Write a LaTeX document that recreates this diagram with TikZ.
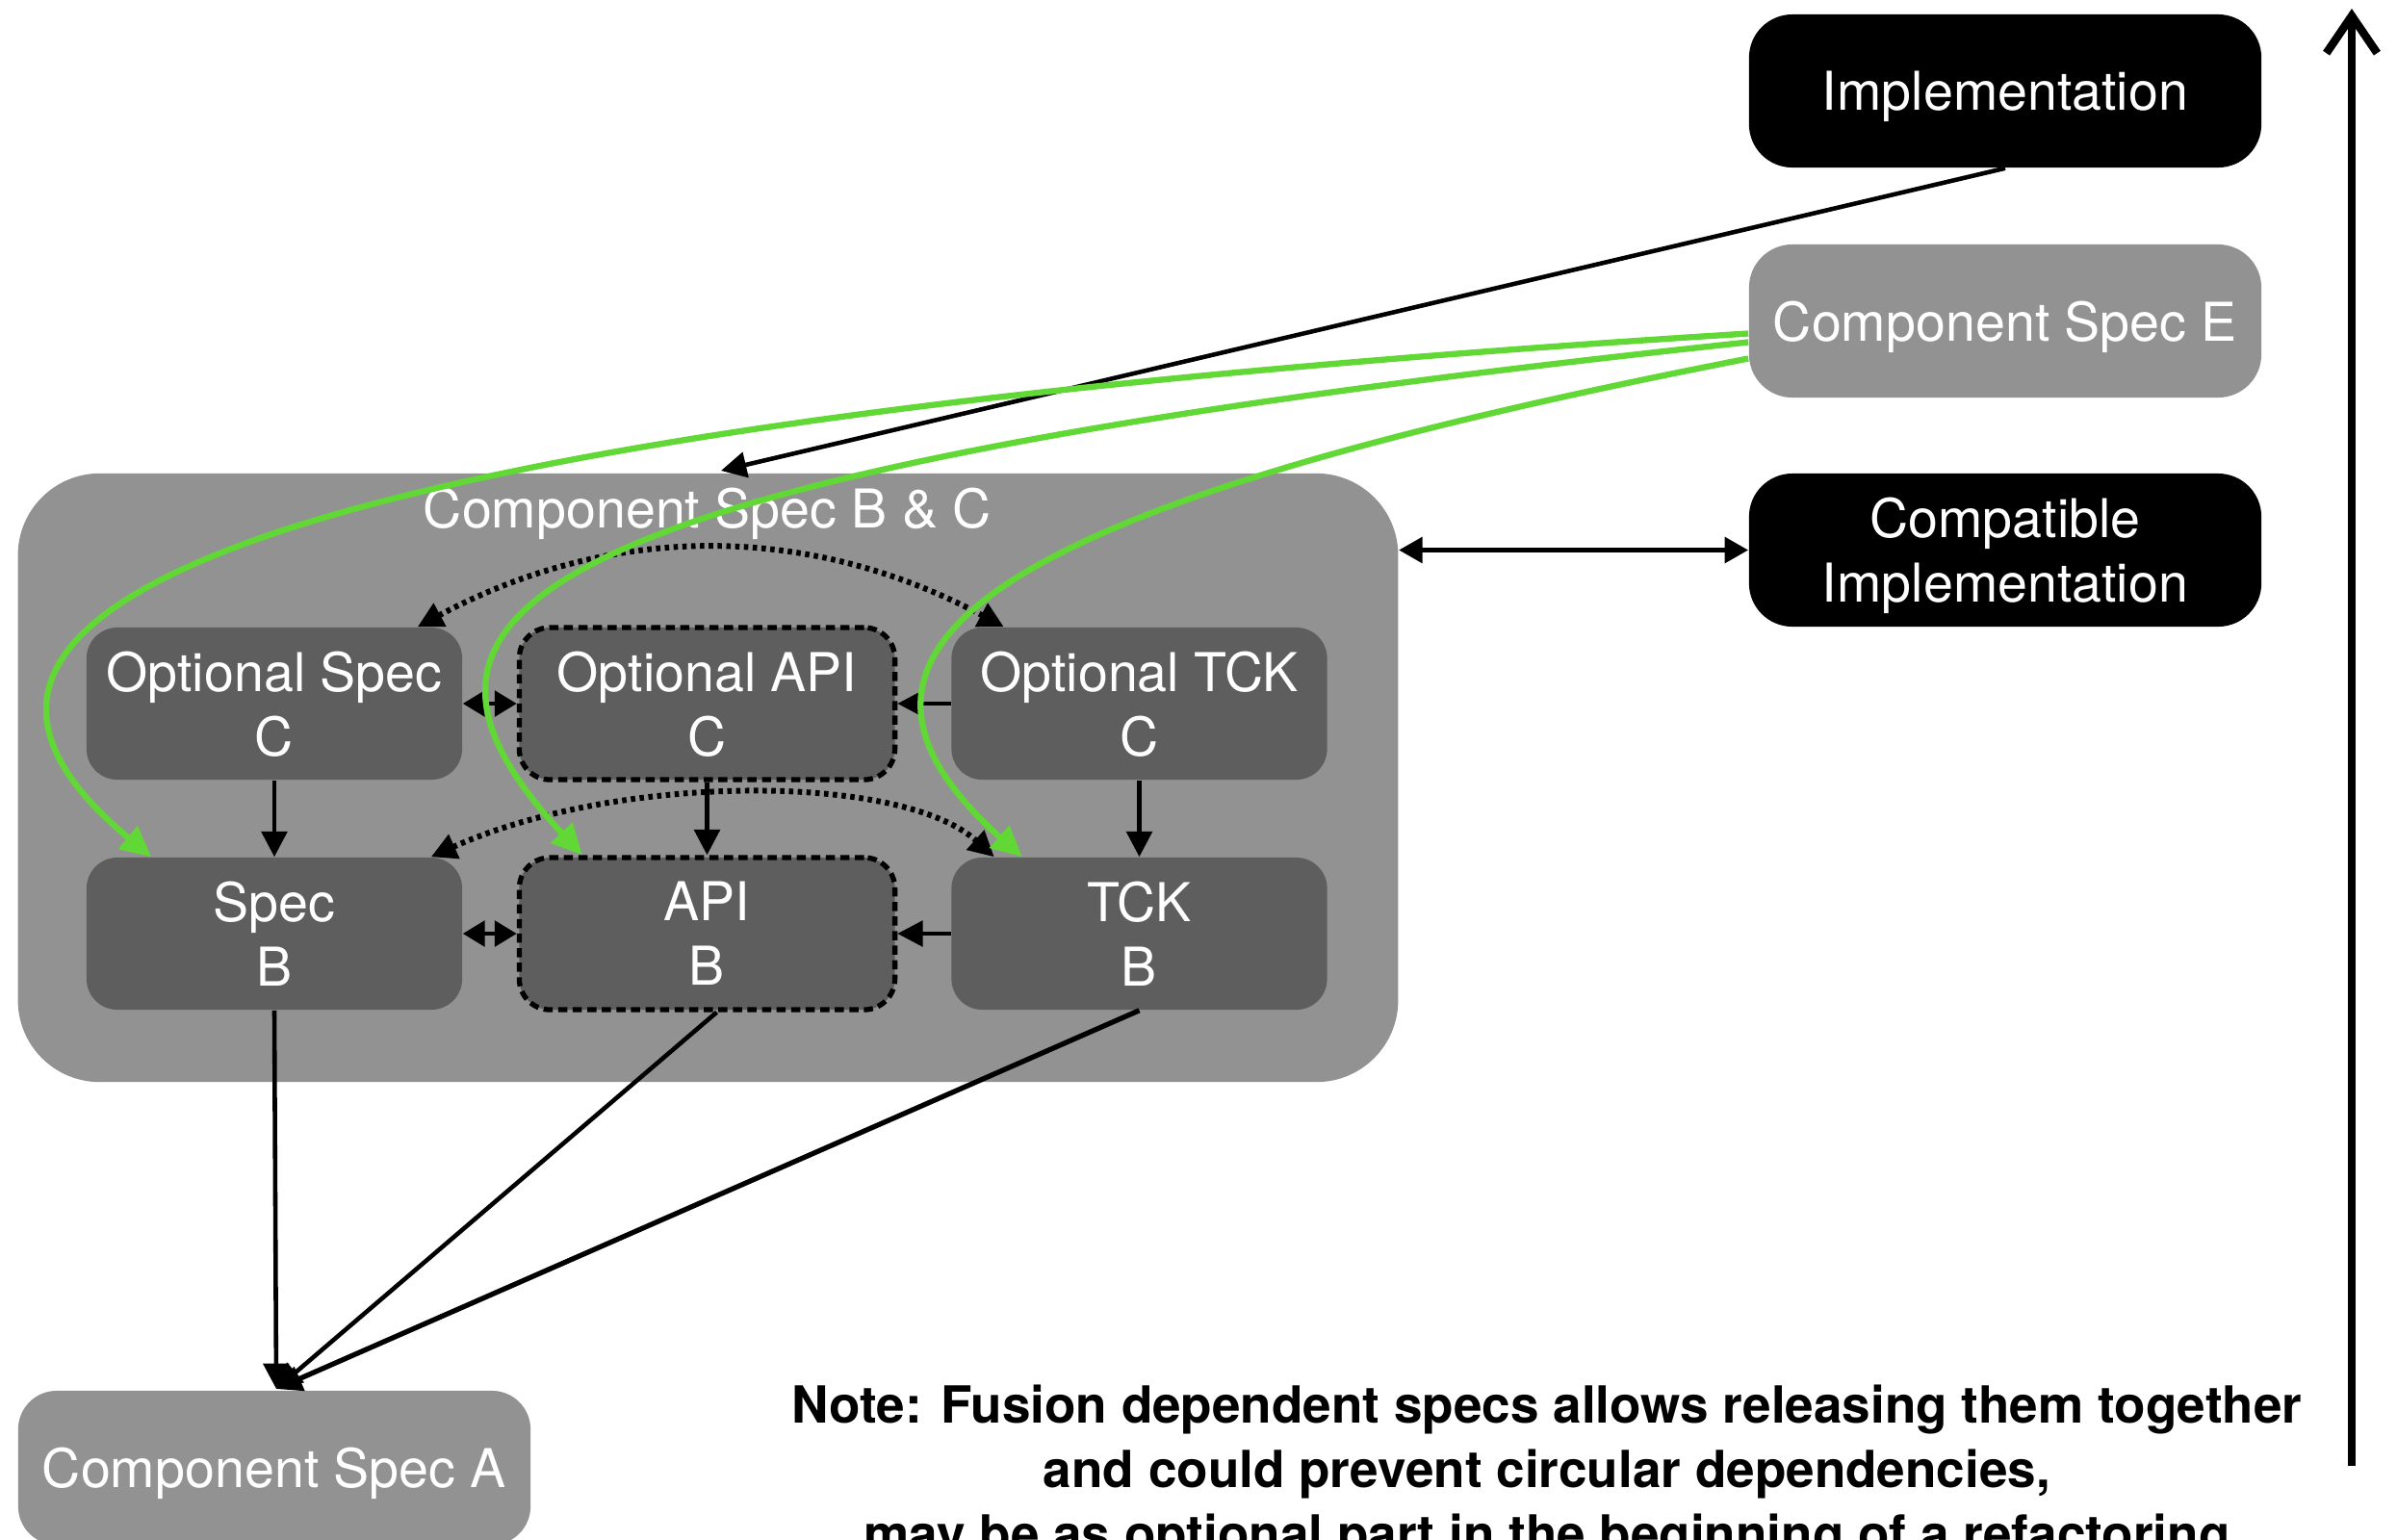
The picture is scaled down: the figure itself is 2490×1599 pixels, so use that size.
\documentclass[tikz,border=0pt]{standalone}
\usepackage{fontspec}
\setmainfont{TeX Gyre Heros}
\usetikzlibrary{arrows.meta,calc}
\definecolor{boxgray}{HTML}{929292}
\definecolor{darkbox}{HTML}{5E5E5E}
\definecolor{kgreen}{HTML}{61D836}
\begin{document}
\begin{tikzpicture}[x=0.01cm,y=-0.01cm,
  txt/.style={text=white,font=\fontsize{15.8}{19}\selectfont,align=center,text depth=0pt},
  outerbox/.style={txt,fill=boxgray,rounded corners=0.45cm,minimum width=5.32cm,minimum height=1.59cm,inner sep=0pt},
  blackbox/.style={outerbox,fill=black},
  innerbox/.style={txt,fill=darkbox,rounded corners=0.32cm,minimum width=3.9cm,minimum height=1.58cm,inner sep=0pt},
  dashbox/.style={innerbox,draw=black,line width=1.5pt,dash pattern=on 2.7pt off 1.6pt},
  conn/.style={line width=1.3pt,-{Triangle[length=7.5pt,width=7.5pt]}},
  biconn/.style={line width=1.3pt,{Triangle[length=6.5pt,width=7.5pt]}-{Triangle[length=6.5pt,width=7.5pt]}},
  dotconn/.style={line width=1.7pt,dash pattern=on 1.3pt off 1.3pt,{Triangle[length=7.5pt,width=7.5pt]}-{Triangle[length=7.5pt,width=7.5pt]}},
  gconn/.style={draw=kgreen,line width=1.8pt,-{Triangle[length=9pt,width=8.5pt]},kgreen},
  notetxt/.style={font=\fontsize{15.1}{19}\bfseries,inner sep=0pt,anchor=base}
]
\clip (0,0) rectangle (2490,1599);
\fill[white] (0,0) rectangle (2490,1599);

% right-hand boxes
\node[blackbox] (impl) at (2083,94.5) {Implementation};
\node[outerbox] (specE) at (2083,333.5) {Component Spec E};
\node[blackbox] (compat) at (2083,571.5) {Compatible\\Implementation};

% container
\node[fill=boxgray,rounded corners=0.85cm,minimum width=14.33cm,minimum height=6.32cm,inner sep=0pt] (cont) at (735.5,808) {};
\node[txt] (contlabel) at (735,528) {Component Spec B \& C};

% inner boxes
\node[innerbox] (optSpec) at (285,731) {Optional Spec\\C};
\node[dashbox] (optAPI) at (734.5,731) {Optional API\\C};
\node[innerbox] (optTCK) at (1183.5,731) {Optional TCK\\C};
\node[innerbox] (specB) at (285,970) {Spec\\B};
\node[dashbox] (apiB) at (734.5,970) {API\\B};
\node[innerbox] (tckB) at (1183.5,970) {TCK\\B};

% component spec A
\node[outerbox,rounded corners=0.4cm,minimum height=1.6cm] (specA) at (285,1525) {Component Spec A};

% coordinates
\coordinate (bcTop) at (749,489);
\coordinate (specAtop) at (287,1443);
\coordinate (axisBot) at (2443,1523);
\coordinate (axisTop) at (2443,9);

% arrows inside container
\draw[biconn] (optSpec.east) -- (optAPI.west);
\draw[conn] (optTCK.west) -- (optAPI.east);
\draw[biconn] (specB.east) -- (apiB.west);
\draw[conn] (tckB.west) -- (apiB.east);
\draw[conn] (optSpec.south) -- (specB.north);
\draw[conn] (optAPI.south) -- (apiB.north);
\draw[conn] (optTCK.south) -- (tckB.north);

% dotted arcs
\draw[dotconn] ($(optSpec.north east)+(-47,0)$) .. controls (636,543) and (840,543) .. ($(optTCK.north west)+(55,0)$);
\draw[dotconn] ($(specB.north east)+(-33,0)$) .. controls (642,803) and (936,803) .. ($(tckB.north west)+(45,0)$);

% container <-> compatible implementation
\draw[line width=1.5pt,{Triangle[length=7pt,width=7.5pt]}-{Triangle[length=7pt,width=7.5pt]}] (cont.east |- compat.west) -- (compat.west);

% implementation -> container
\draw[conn] (impl.south) -- (bcTop);

% green curves from Component Spec E
\draw[gconn] ($(specE.west)+(0,13)$) .. controls (117,452) and (-120,660) .. ($(specB.north west)+(68,0)$);
\draw[gconn] ($(specE.west)+(0,22)$) .. controls (523,493) and (370,636) .. ($(apiB.north west)+(68,0)$);
\draw[gconn] ($(specE.west)+(0,39)$) .. controls (1033,525) and (816,671) .. ($(tckB.north west)+(74,0)$);

% to component spec A
\draw[conn] (specB.south) -- (specAtop);
\draw[conn] ($(apiB.south)+(10,0)$) -- (specAtop);
\draw[conn,line width=1.5pt] (tckB.south) -- (specAtop);

% vertical axis arrow
\draw[line width=2.4pt,-{Straight Barb[length=11pt,width=15pt]}] (axisBot) -- (axisTop);

% note
\node[notetxt] (note1) at (1607,1478) {Note: Fusion dependent specs allows releasing them together};
\node[notetxt] (note2) at (1607,1545) {and could prevent circular dependencies,};
\node[notetxt] (note3) at (1607,1612) {may be as optional part in the beginning of a refactoring};
\end{tikzpicture}
\end{document}
